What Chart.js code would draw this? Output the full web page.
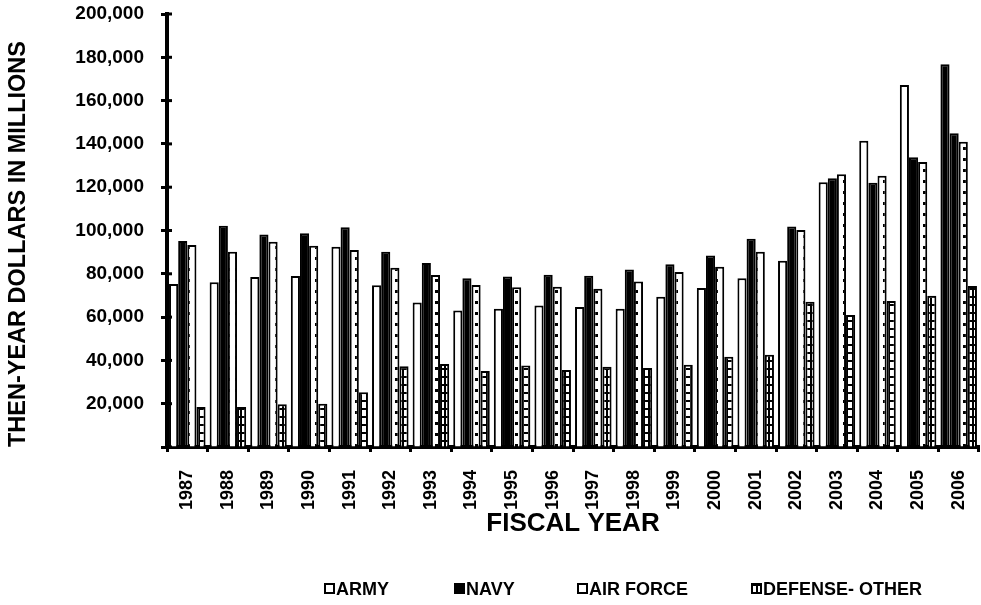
<!DOCTYPE html>
<html>
<head>
<title>Then-year dollars by service</title>
<script src="https://cdn.jsdelivr.net/npm/chart.js"></script>
<style>
  body { margin: 0; background: #fff; }
  #wrap { width: 981px; height: 605px; }
</style>
</head>
<body>
<div id="wrap"><canvas id="chart"></canvas></div>
<script>
var years = ['1987', '1988', '1989', '1990', '1991', '1992', '1993', '1994', '1995', '1996',
             '1997', '1998', '1999', '2000', '2001', '2002', '2003', '2004', '2005', '2006'];
var army = [75300, 76100, 78500, 79000, 92500, 74700, 66700, 63000, 63900, 65400,
            64700, 63900, 69400, 73400, 78000, 86000, 122300, 141500, 167200, 176800];
var navy = [95200, 102200, 98200, 98700, 101500, 90200, 85000, 78000, 78700, 79600,
            79100, 82000, 84400, 88500, 96200, 101800, 124100, 122100, 133800, 144900];
var airForce = [93300, 90200, 94800, 93000, 91000, 82800, 79400, 74800, 73800, 74000,
                73100, 76400, 80800, 83300, 90200, 100200, 126000, 125300, 131600, 141000];
var defenseOther = [18500, 18500, 19700, 20000, 25300, 37300, 38300, 35100, 37700, 35600,
                    37100, 36500, 38000, 41700, 42600, 67100, 61000, 67400, 69900, 74400];
var seriesNames = ['ARMY', 'NAVY', 'AIR FORCE', 'DEFENSE- OTHER'];

var FONT = '"Liberation Sans", Arial, sans-serif';
var ctx = document.getElementById('chart').getContext('2d');

function makePattern(w, h, draw) {
  var c = document.createElement('canvas');
  c.width = w; c.height = h;
  var g = c.getContext('2d');
  g.fillStyle = '#fff';
  g.fillRect(0, 0, w, h);
  g.fillStyle = '#000';
  draw(g);
  return ctx.createPattern(c, 'repeat');
}
var dotFill = makePattern(8, 11, function(g) { g.fillRect(3, 4, 3, 3); });
var gridFill = makePattern(6, 8, function(g) { g.fillRect(0, 0, 2, 8); g.fillRect(0, 0, 6, 2); });

// small tick marks on the inner side of the value axis
var tickStubs = {
  id: 'tickStubs',
  afterDraw: function(chart) {
    var y = chart.scales.y, a = chart.chartArea, c = chart.ctx;
    c.save();
    c.strokeStyle = '#000';
    c.lineWidth = 3;
    y.ticks.forEach(function(t) {
      var py = y.getPixelForValue(t.value);
      c.beginPath(); c.moveTo(a.left, py); c.lineTo(a.left + 5, py); c.stroke();
    });
    c.restore();
  }
};

// legend drawn under the plot, spaced like the original
var legendX = [325, 455, 578, 752];
var bottomLegend = {
  id: 'bottomLegend',
  afterDraw: function(chart) {
    var c = chart.ctx;
    c.save();
    c.font = 'bold 18px ' + FONT;
    c.textBaseline = 'middle';
    chart.data.datasets.forEach(function(ds, i) {
      var x = legendX[i], y = 589;
      c.fillStyle = i === 1 ? '#000' : (i === 3 ? gridFill : '#fff');
      c.fillRect(x, y - 5, 9, 9);
      c.strokeStyle = '#000';
      c.lineWidth = 2;
      c.strokeRect(x, y - 5, 9, 9);
      c.fillStyle = '#000';
      c.fillText(ds.label, x + 11, y + 1);
    });
    c.restore();
  }
};

new Chart(ctx, {
  type: 'bar',
  data: {
    labels: years,
    datasets: [
      { label: seriesNames[0], data: army,
        backgroundColor: army.map(function(v, i) { return i === army.length - 1 ? '#000' : '#fff'; }) },
      { label: seriesNames[1], data: navy, backgroundColor: '#000' },
      { label: seriesNames[2], data: airForce, backgroundColor: dotFill },
      { label: seriesNames[3], data: defenseOther, backgroundColor: gridFill }
    ]
  },
  options: {
    responsive: true,
    maintainAspectRatio: false,
    animation: false,
    devicePixelRatio: 1,
    layout: { padding: { left: 0, right: 2, top: 14, bottom: 63 } },
    datasets: {
      bar: {
        borderColor: '#000',
        borderWidth: 2,
        categoryPercentage: 0.9,
        barPercentage: 1.0
      }
    },
    plugins: {
      legend: { display: false },
      tooltip: { enabled: false }
    },
    scales: {
      x: {
        grid: { drawOnChartArea: false, offset: true, tickLength: 5, tickWidth: 3, tickColor: '#000' },
        border: { display: true, color: '#000', width: 4 },
        ticks: {
          minRotation: 90, maxRotation: 90, autoSkip: false, padding: 18,
          color: '#000', font: { family: FONT, size: 18, weight: 'bold' }
        },
        title: {
          display: true, text: 'FISCAL YEAR', color: '#000',
          font: { family: FONT, size: 26, weight: 'bold' },
          padding: { top: 0, bottom: 3 }
        },
        afterFit: function(s) { s.height = 95; s.paddingLeft = 0; s.paddingRight = 0; }
      },
      y: {
        min: 0, max: 200000,
        grid: { drawOnChartArea: false, tickLength: 6, tickWidth: 3, tickColor: '#000' },
        border: { display: true, color: '#000', width: 4 },
        ticks: {
          stepSize: 20000, padding: 17, color: '#000',
          font: { family: FONT, size: 19, weight: 'bold' },
          callback: function(v) { return v === 0 ? '' : v.toLocaleString('en-US'); }
        },
        title: {
          display: true, text: 'THEN-YEAR DOLLARS IN MILLIONS', color: '#000', align: 'start',
          font: { family: FONT, size: 23.5, weight: 'bold' },
          padding: { top: 4, bottom: 0 }
        },
        afterFit: function(s) { s.width = 167; s.paddingTop = 0; s.paddingBottom = 0; }
      }
    }
  },
  plugins: [tickStubs, bottomLegend]
});
</script>
</body>
</html>
